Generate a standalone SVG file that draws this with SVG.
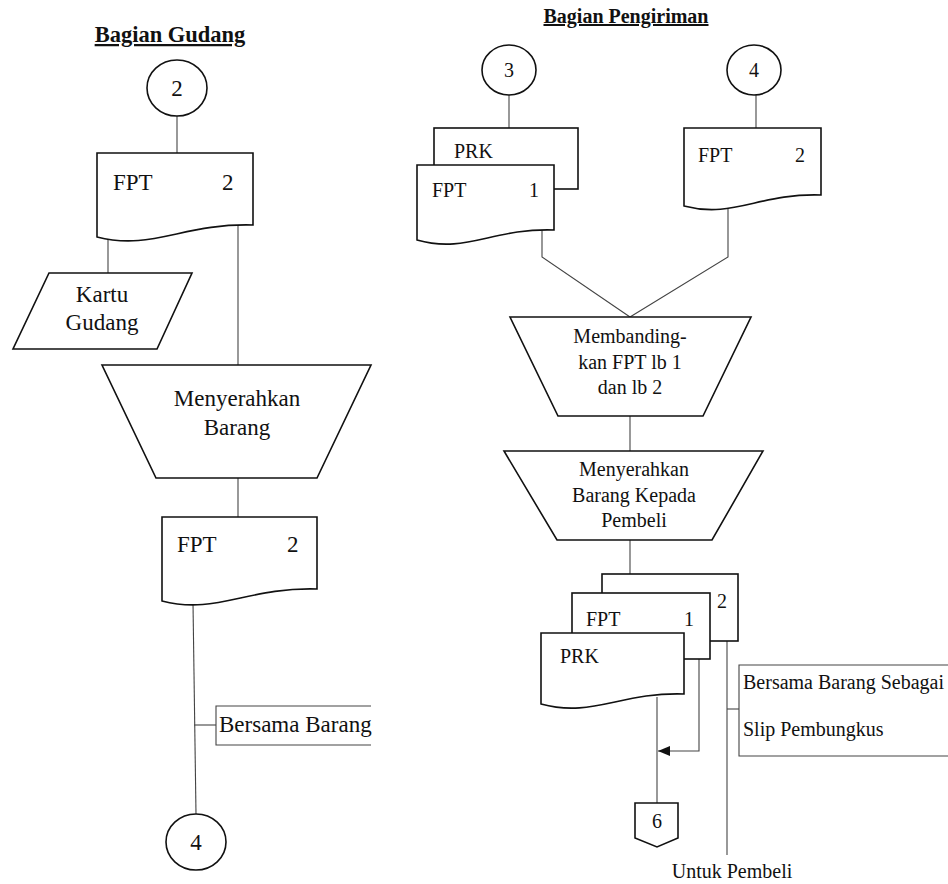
<svg xmlns="http://www.w3.org/2000/svg" width="948" height="884" viewBox="0 0 948 884">
<style>
.s{fill:#fff;stroke:#111;stroke-width:1.6}
.c{fill:none;stroke:#444;stroke-width:1.1}
text{font-family:"Liberation Serif","Times New Roman",serif;fill:#111}
.l{font-size:23px}
.r{font-size:20px}
.m{text-anchor:middle}
.t{font-weight:bold;text-decoration:underline}
</style>
<defs>
<marker id="ar" markerWidth="12" markerHeight="10" refX="12" refY="5" orient="auto" markerUnits="userSpaceOnUse">
<path d="M0,0 L12,5 L0,10 Z" fill="#111"/>
</marker>
</defs>
<text class="t m" x="170" y="42" font-size="22.5">Bagian Gudang</text>
<text class="t m" x="626" y="23" font-size="20">Bagian Pengiriman</text>
<g id="connectors">
<line class="c" x1="177" y1="116" x2="177" y2="153"/>
<line class="c" x1="108" y1="239" x2="108" y2="273"/>
<line class="c" x1="238" y1="225" x2="238" y2="365"/>
<line class="c" x1="238" y1="478" x2="238" y2="517"/>
<line class="c" x1="193" y1="603" x2="196" y2="814"/>
<line class="c" x1="194" y1="725" x2="216" y2="725"/>
<path class="c" d="M371,706 H216 V745 H371"/>
<line class="c" x1="509" y1="95" x2="509" y2="128"/>
<line class="c" x1="756" y1="95" x2="756" y2="128"/>
<polyline class="c" points="542,230 542,257 630,317"/>
<polyline class="c" points="728,209 728,257 630,317"/>
<line class="c" x1="630" y1="416" x2="630" y2="451"/>
<line class="c" x1="630" y1="540" x2="630" y2="574"/>
<line class="c" x1="657" y1="697" x2="657" y2="803"/>
<polyline class="c" points="699,659 699,751 658,751" marker-end="url(#ar)"/>
<line class="c" x1="727" y1="641" x2="727" y2="855"/>
<line class="c" x1="727" y1="709" x2="739" y2="709"/>
<path class="c" d="M948,665 H739 V756 H948"/>
</g>
<g id="conn-2">
<ellipse class="s" cx="177" cy="88" rx="30" ry="28"/>
<text class="l m" x="177" y="96">2</text>
</g>
<g id="doc-fpt2-gudang">
<path class="s" d="M97,153 H253 V225 C183,223 152,251 97,237 Z"/>
<text class="l" x="113" y="190">FPT</text>
<text class="l" x="222" y="190">2</text>
</g>
<g id="kartu-gudang">
<polygon class="s" points="49,273 192,273 157,349 13,349"/>
<text class="l m" x="102" y="302">Kartu</text>
<text class="l m" x="102" y="330">Gudang</text>
</g>
<g id="menyerahkan-barang">
<polygon class="s" points="102,365 371,365 317,478 156,478"/>
<text class="l m" x="237" y="406">Menyerahkan</text>
<text class="l m" x="237" y="435">Barang</text>
</g>
<g id="doc-fpt2-gudang-out">
<path class="s" d="M162,517 H317 V589 C247,587 216,615 162,601 Z"/>
<text class="l" x="177" y="552">FPT</text>
<text class="l" x="287" y="552">2</text>
</g>
<g id="note-bersama-barang">
<text class="l" x="219" y="732">Bersama Barang</text>
</g>
<g id="conn-4-gudang">
<ellipse class="s" cx="196" cy="842" rx="30" ry="28"/>
<text class="l m" x="196" y="850">4</text>
</g>
<g id="conn-3">
<ellipse class="s" cx="509" cy="70" rx="27" ry="25"/>
<text class="r m" x="509" y="77">3</text>
</g>
<g id="conn-4">
<ellipse class="s" cx="754" cy="70" rx="27" ry="25"/>
<text class="r m" x="754" y="77">4</text>
</g>
<g id="doc-prk-fpt1">
<rect class="s" x="434" y="128" width="144" height="61"/>
<text class="r" x="454" y="158">PRK</text>
<path class="s" d="M417,165 H554 V230 C492,228 466,254 417,240 Z"/>
<text class="r" x="432" y="197">FPT</text>
<text class="r" x="529" y="197">1</text>
</g>
<g id="doc-fpt2-kirim">
<path class="s" d="M684,128 H821 V195 C759,193 733,219 684,206 Z"/>
<text class="r" x="698" y="162">FPT</text>
<text class="r" x="795" y="162">2</text>
</g>
<g id="membandingkan">
<polygon class="s" points="510,317 751,317 703,416 558,416"/>
<text class="r m" x="630" y="343">Membanding-</text>
<text class="r m" x="630" y="369">kan FPT lb 1</text>
<text class="r m" x="630" y="394">dan lb 2</text>
</g>
<g id="menyerahkan-pembeli">
<polygon class="s" points="504,451 763,451 712,540 557,540"/>
<text class="r m" x="634" y="476">Menyerahkan</text>
<text class="r m" x="634" y="502">Barang Kepada</text>
<text class="r m" x="634" y="527">Pembeli</text>
</g>
<g id="doc-stack-out">
<rect class="s" x="602" y="574" width="136" height="67"/>
<text class="r" x="717" y="608">2</text>
<rect class="s" x="572" y="593" width="138" height="66"/>
<text class="r" x="586" y="626">FPT</text>
<text class="r" x="684" y="626">1</text>
<path class="s" d="M541,633 H684 V694 C620,692 592,718 541,704 Z"/>
<text class="r" x="560" y="663">PRK</text>
</g>
<g id="note-slip">
<text class="r" x="743" y="689">Bersama Barang Sebagai</text>
<text class="r" x="743" y="736">Slip Pembungkus</text>
</g>
<g id="offpage-6">
<polygon class="s" points="635,803 678,803 678,838 657,847 635,838"/>
<text class="r m" x="657" y="828">6</text>
</g>
<g id="untuk-pembeli">
<text class="r m" x="732" y="878">Untuk Pembeli</text>
</g>
</svg>
